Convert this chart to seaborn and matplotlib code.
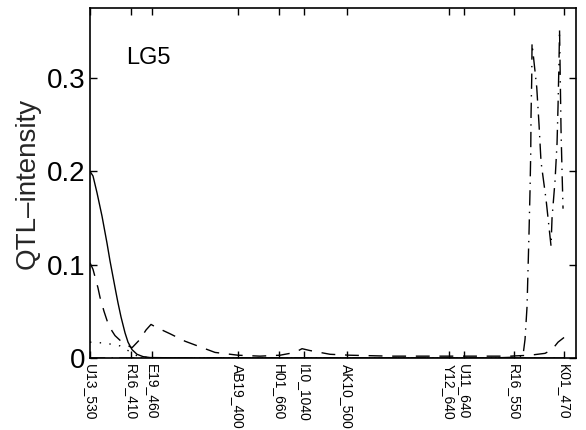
import matplotlib
matplotlib.use("Agg")
import matplotlib.pyplot as plt
import seaborn as sns

# marker positions along the linkage group (arbitrary map units)
marker_names = ["U13_530", "R16_410", "E19_460", "AB19_400", "H01_660", "I10_1040",
                "AK10_500", "Y12_640", "U11_640", "R16_550", "K01_470"]
marker_pos = [0, 41, 62, 148, 189, 214, 257, 359, 374, 424, 474]

# solid trace
solid_x = [0, 3, 7, 12, 17, 20, 23, 26, 28, 31, 35, 38, 42, 47, 53, 60, 100, 200, 300, 400, 474]
solid_y = [0.200, 0.195, 0.177, 0.152, 0.123, 0.104, 0.087, 0.070, 0.059, 0.044, 0.027,
           0.017, 0.009, 0.004, 0.0015, 0.0005, 0.0, 0.0, 0.0, 0.0, 0.0]

# dashed trace
dashed_x = [0, 3, 5, 8, 10, 14, 18, 22, 25, 30, 35, 42, 50, 56, 61, 66, 80, 95, 110, 125,
            148, 170, 190, 205, 212, 220, 240, 260, 300, 340, 380, 420, 440, 455, 462, 468, 474]
dashed_y = [0.102, 0.095, 0.087, 0.075, 0.065, 0.050, 0.037, 0.029, 0.024, 0.019, 0.015,
            0.011, 0.020, 0.030, 0.036, 0.033, 0.026, 0.018, 0.012, 0.006, 0.003, 0.002,
            0.003, 0.006, 0.010, 0.008, 0.004, 0.003, 0.002, 0.002, 0.002, 0.002, 0.003,
            0.005, 0.009, 0.017, 0.022]

# dotted trace
dotted_x = [0, 15, 30, 38, 45, 60, 100, 200, 300, 400, 474]
dotted_y = [0.017, 0.016, 0.013, 0.008, 0.003, 0.0, 0.0, 0.0, 0.0, 0.0, 0.0]

# dash-dot trace
dashdot_x = [0, 100, 200, 300, 400, 428, 433, 435, 437, 438, 439, 440, 440.7, 441, 441.7,
             442, 446.7, 449, 451, 456, 460, 461, 462, 465, 467, 468, 469, 469.5, 471, 472, 473]
dashdot_y = [0.0, 0.0, 0.0, 0.0, 0.0, 0.001, 0.003, 0.02, 0.055, 0.095, 0.135, 0.18, 0.22,
             0.26, 0.30, 0.337, 0.29, 0.25, 0.21, 0.17, 0.13, 0.12, 0.15, 0.19, 0.23, 0.27,
             0.32, 0.352, 0.244, 0.20, 0.16]

yticks = [0, 0.1, 0.2, 0.3]
ytick_labels = ["0", "0.1", "0.2", "0.3"]

sns.set_style("ticks")
plt.rcParams["font.family"] = ["Liberation Sans", "DejaVu Sans"]

fig = plt.figure(figsize=(5.86, 4.30), dpi=100)
ax = fig.add_axes([0.1536, 0.1674, 0.8294, 0.8140])

lw = 1.0
sns.lineplot(x=solid_x, y=solid_y, ax=ax, color="black", linewidth=lw, linestyle="-")
sns.lineplot(x=dashed_x, y=dashed_y, ax=ax, color="black", linewidth=lw, linestyle=(0, (10, 7)))
sns.lineplot(x=dotted_x, y=dotted_y, ax=ax, color="black", linewidth=lw, linestyle=(0, (1, 6)))
sns.lineplot(x=dashdot_x, y=dashdot_y, ax=ax, color="black", linewidth=lw,
             linestyle=(0, (11, 4.5, 1, 4.5)))

ax.set_xlim(0, 486)
ax.set_ylim(0, 0.375)
ax.set_xticks(marker_pos)
ax.set_xticklabels(marker_names, rotation=-90, fontsize=10)
ax.set_yticks(yticks)
ax.set_yticklabels(ytick_labels, fontsize=20)
ax.tick_params(direction="in", length=5, width=1, top=True, right=True, colors="black")
ax.tick_params(axis="x", pad=4)
ax.set_xlabel("")
ax.set_ylabel("QTL\u2013intensity", fontsize=20)
for s in ax.spines.values():
    s.set_visible(True)
    s.set_color("black")
    s.set_linewidth(1.2)

ax.text(0.075, 0.84, "LG5", transform=ax.transAxes, fontsize=17, color="black")

fig.savefig("out.png", dpi=100)
